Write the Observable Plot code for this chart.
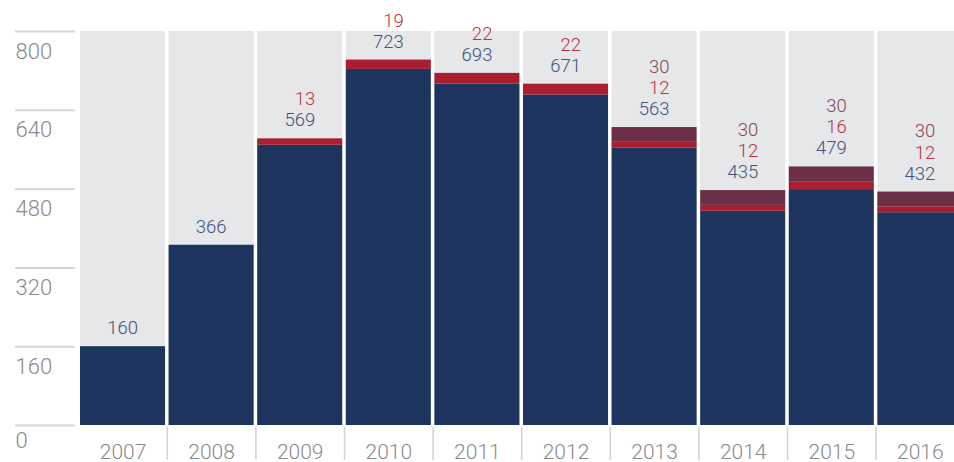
<!DOCTYPE html>
<html>
<head>
<meta charset="utf-8">
<script src="https://cdn.jsdelivr.net/npm/d3@7"></script>
<script src="https://cdn.jsdelivr.net/npm/@observablehq/plot@0.6"></script>
<style>
  html, body { margin: 0; padding: 0; background: #fff; overflow: hidden; }
  #chart { width: 954px; height: 462px; overflow: hidden; }
</style>
</head>
<body>
<div id="chart"></div>
<script>
const years = ["2007", "2008", "2009", "2010", "2011", "2012", "2013", "2014", "2015", "2016"];
const navyValues = [160, 366, 569, 723, 693, 671, 563, 435, 479, 432];
const redValues = [0, 0, 13, 19, 22, 22, 12, 12, 16, 12];
const maroonValues = [0, 0, 0, 0, 0, 0, 30, 30, 30, 30];
const yTicks = [0, 160, 320, 480, 640, 800];
const yMax = 800;

const seriesNames = ["Series A", "Series B", "Series C"];
const seriesColors = ["#1d355e", "#a91f2f", "#6b2f47"];
const labelColors = ["#405380", "#b8323f", "#8a4358"];
const seriesValues = [navyValues, redValues, maroonValues];

const rows = [];
years.forEach((yr, i) => {
  seriesNames.forEach((s, k) => {
    if (seriesValues[k][i] > 0) rows.push({year: yr, series: s, value: seriesValues[k][i]});
  });
});
const totals = years.map((_, i) => navyValues[i] + redValues[i] + maroonValues[i]);

const FONT = "Roboto, 'Noto Sans', sans-serif";
const labelOffsets = [-12.5, -33.5, -55];

const valueLabels = seriesNames.map((s, k) =>
  Plot.text(years.map((yr, i) => ({year: yr, total: totals[i], v: seriesValues[k][i]})).filter(d => d.v > 0), {
    x: "year", y: "total", text: d => String(d.v),
    fill: labelColors[k], textAnchor: "end", dx: 15, dy: labelOffsets[k],
    lineAnchor: "bottom", fontSize: 18.5, fontWeight: 300
  })
);

const chart = Plot.plot({
  width: 954,
  height: 462,
  marginTop: 0, marginBottom: 0, marginLeft: 0, marginRight: 0,
  style: {fontFamily: FONT, background: "transparent"},
  x: {type: "band", domain: years, range: [80, 962.4], paddingInner: 0.04, paddingOuter: 0, round: false, axis: null},
  y: {domain: [0, yMax], range: [425, 31], axis: null},
  color: {domain: seriesNames, range: seriesColors},
  marks: [
    Plot.barY(years, {x: d => d, y1: 0, y2: yMax, fill: "#e6e7e9"}),
    Plot.barY(rows, {x: "year", y: "value", fill: "series", order: seriesNames}),
    Plot.ruleY(yTicks, {y: d => d, stroke: "#d6d6d6", strokeWidth: 2, insetLeft: 15, insetRight: 879}),
    Plot.text(yTicks.filter(d => d > 0), {y: d => d, text: d => String(d), frameAnchor: "left", dx: 15, dy: 20,
      textAnchor: "start", lineAnchor: "middle", fill: "#8a8a8a", fontSize: 22, fontWeight: 300}),
    Plot.text(yTicks.filter(d => d === 0), {y: d => d, text: d => String(d), frameAnchor: "left", dx: 15, dy: 15,
      textAnchor: "start", lineAnchor: "middle", fill: "#8a8a8a", fontSize: 22, fontWeight: 300}),
    Plot.ruleX(years.slice(1), {x: d => d, dx: -44.3, stroke: "#d2d2d2", strokeWidth: 1.5, insetTop: 427, insetBottom: 2}),
    Plot.text(years, {x: d => d, text: d => d, frameAnchor: "bottom", lineAnchor: "bottom", dy: -4,
      fill: "#8a8a8a", fontSize: 21, fontWeight: 300}),
    ...valueLabels
  ]
});
document.getElementById("chart").appendChild(chart);
</script>
</body>
</html>
